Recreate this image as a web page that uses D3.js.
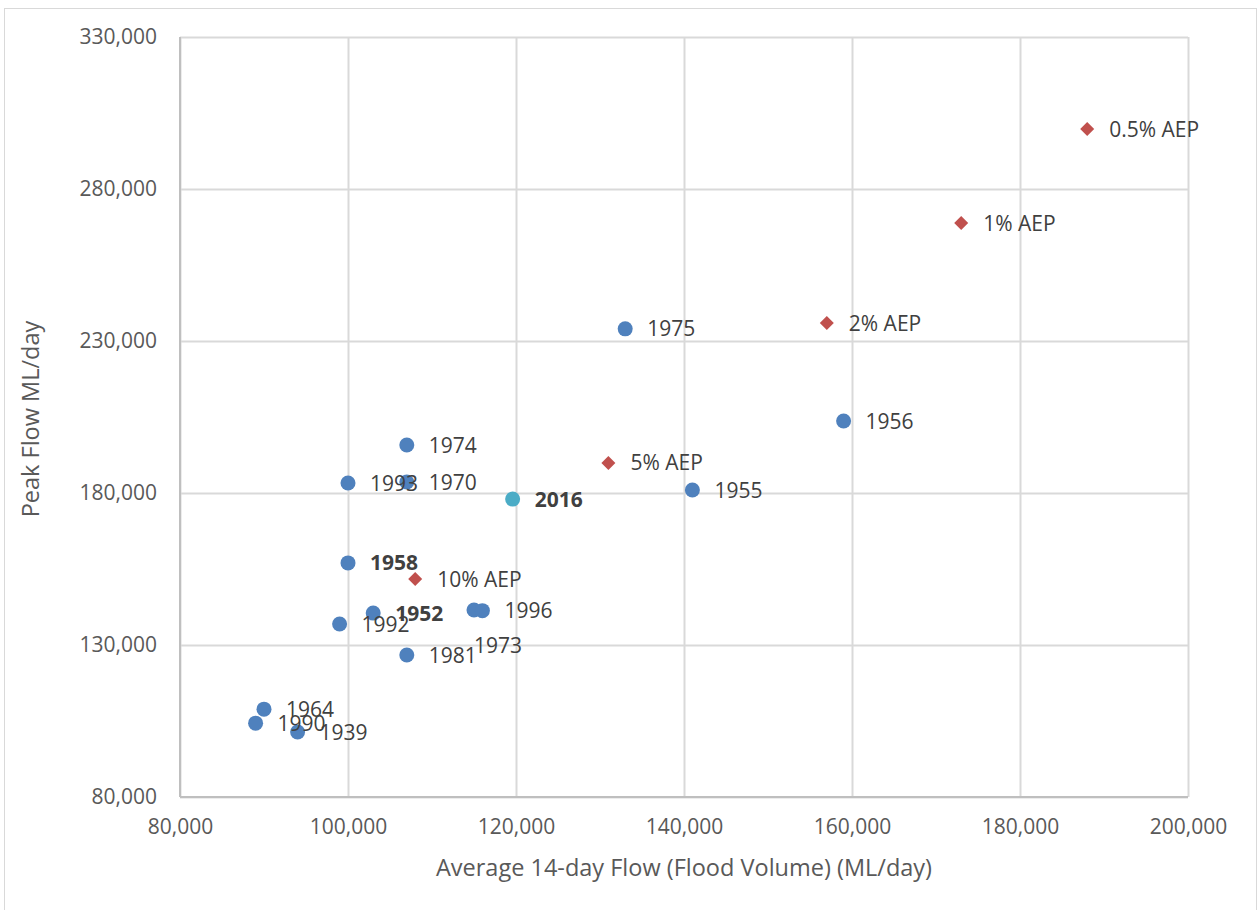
<!DOCTYPE html>
<html><head><meta charset="utf-8">
<script src="https://cdn.jsdelivr.net/npm/d3@7"></script>
<style>body{margin:0;background:#fff;} svg{display:block;}</style>
</head><body>
<svg id="chart" width="1258" height="910"></svg>
<script>
// Historic floods
const floodYears = ["1975","1956","1955","1974","1970","1993","1958","1952","1992","1973","1996","1981","1964","1990","1939"];
const floodVolume = [133000,159000,141000,107000,107000,100000,100000,103000,99000,115000,116000,107000,90000,89000,94000];
const floodPeak = [234000,203700,181000,195800,183600,183300,157000,140500,136900,141500,141300,126700,108900,104300,101400];
const boldYears = ["1958","1952"];
// 2016 event
const eventLabel = ["2016"];
const eventVolume = [119600];
const eventPeak = [178000];
// Design AEP events
const aepLabels = ["10% AEP","5% AEP","2% AEP","1% AEP","0.5% AEP"];
const aepVolume = [108000,131000,157000,173000,188000];
const aepPeak = [151700,189900,235900,268800,299700];
// Axis ticks
const xTicks = [80000,100000,120000,140000,160000,180000,200000];
const yTicks = [80000,130000,180000,230000,280000,330000];

const svg = d3.select("#chart");
const font = "'Open Sans', sans-serif";
const pLeft = 180, pRight = 1188, pTop = 37, pBottom = 797;
const x = d3.scaleLinear().domain([80000,200000]).range([pLeft,pRight]);
const y = d3.scaleLinear().domain([80000,330000]).range([pBottom,pTop]);
const fmt = d3.format(",");

svg.append("rect").attr("x",4.5).attr("y",8.5).attr("width",1252).attr("height",920)
  .attr("fill","#fff").attr("stroke","#d9d9d9").attr("stroke-width",1);

// gridlines
const gx = svg.append("g").attr("transform",`translate(0,${pBottom})`)
  .call(d3.axisBottom(x).tickValues(xTicks).tickSize(-(pBottom-pTop)).tickFormat(fmt).tickPadding(22));
gx.select(".domain").remove();
gx.selectAll("line").attr("stroke","#d9d9d9").attr("stroke-width",2);
gx.selectAll("text").attr("fill","#595959").style("font-family",font).style("font-size","21px");

const gy = svg.append("g").attr("transform",`translate(${pLeft},0)`)
  .call(d3.axisLeft(y).tickValues(yTicks).tickSize(-(pRight-pLeft)).tickFormat(fmt).tickPadding(23));
gy.select(".domain").remove();
gy.selectAll("line").attr("stroke","#d9d9d9").attr("stroke-width",2);
gy.selectAll("text").attr("fill","#595959").style("font-family",font).style("font-size","21px");

// axis lines
svg.append("line").attr("x1",pLeft).attr("x2",pRight).attr("y1",pBottom).attr("y2",pBottom)
  .attr("stroke","#bfbfbf").attr("stroke-width",2);
svg.append("line").attr("x1",pLeft).attr("x2",pLeft).attr("y1",pTop).attr("y2",pBottom)
  .attr("stroke","#bfbfbf").attr("stroke-width",2);

// titles
svg.append("text").attr("x",684).attr("y",876).attr("text-anchor","middle")
  .attr("fill","#595959").style("font-family",font).style("font-size","23.5px")
  .text("Average 14-day Flow (Flood Volume) (ML/day)");
svg.append("text").attr("transform",`translate(39,${(pTop+pBottom)/2+2}) rotate(-90)`).attr("text-anchor","middle")
  .attr("fill","#595959").style("font-family",font).style("font-size","23.5px")
  .text("Peak Flow ML/day");

const labelOffset = {"1973":[-22,35]};

// floods
const floods = floodYears.map((yr,i)=>({label:yr,vx:floodVolume[i],vy:floodPeak[i]}));
svg.append("g").selectAll("circle").data(floods).join("circle")
  .attr("cx",d=>x(d.vx)).attr("cy",d=>y(d.vy)).attr("r",7.5).attr("fill","#4f81bd");
const ev = eventLabel.map((l,i)=>({label:l,vx:eventVolume[i],vy:eventPeak[i]}));
svg.append("g").selectAll("circle").data(ev).join("circle")
  .attr("cx",d=>x(d.vx)).attr("cy",d=>y(d.vy)).attr("r",7.5).attr("fill","#4bacc6");
const aep = aepLabels.map((l,i)=>({label:l,vx:aepVolume[i],vy:aepPeak[i]}));
svg.append("g").selectAll("path").data(aep).join("path")
  .attr("transform",d=>`translate(${x(d.vx)},${y(d.vy)})`)
  .attr("d","M0,-7L7,0L0,7L-7,0Z").attr("fill","#c0504d");

// labels
const all = floods.concat(ev, aep);
svg.append("g").selectAll("text").data(all).join("text")
  .attr("x",d=>x(d.vx)+22+((labelOffset[d.label]||[0,0])[0]))
  .attr("y",d=>y(d.vy)+((labelOffset[d.label]||[0,0])[1]))
  .attr("dy","0.36em")
  .attr("fill","#404040").style("font-family",font).style("font-size","21px")
  .style("font-weight",d=>(boldYears.includes(d.label)||eventLabel.includes(d.label))?"bold":"normal")
  .text(d=>d.label);
</script>
</body></html>
